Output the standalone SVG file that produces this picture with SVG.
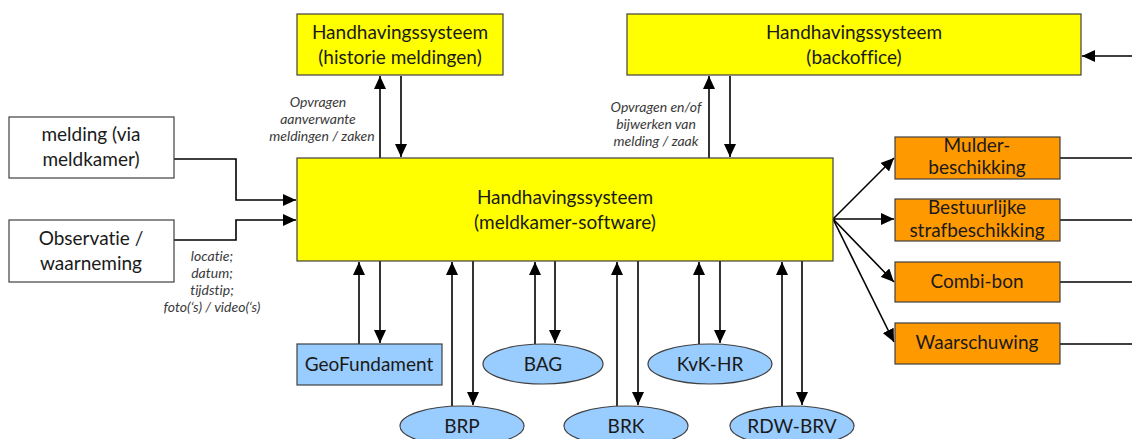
<svg xmlns="http://www.w3.org/2000/svg" width="1132" height="439" viewBox="0 0 1132 439">
  <style>
    .box { stroke: #404040; stroke-width: 1.2; }
    .sys { fill: #ffff00; }
    .src { fill: #ffffff; }
    .out { fill: #ff9900; }
    .reg { fill: #99ccff; }
    text { font-variant-ligatures: none; font-feature-settings: "liga" 0; }
    .t { font-family: Lato, "Liberation Sans", sans-serif; font-size: 19px; fill: #1a1a1a; text-anchor: middle; }
    .note { font-family: Lato, "Liberation Sans", sans-serif; font-size: 14px; font-style: italic; fill: #3a3a3a; text-anchor: middle; }
    .c { fill: none; stroke: #000; stroke-width: 1.6; }
  </style>
  <defs>
    <marker id="arrow" markerUnits="userSpaceOnUse" markerWidth="14" markerHeight="12" refX="13" refY="6" orient="auto">
      <path d="M0,0 L13,6 L0,12 Z" fill="#000"/>
    </marker>
  </defs>

  <rect width="1132" height="439" fill="#ffffff"/>

  <!-- connectors -->
  <g id="connectors">
    <!-- inputs -->
    <polyline class="c" points="174,159 236,159 236,200 296,200" marker-end="url(#arrow)"/>
    <polyline class="c" points="174,240 236,240 236,220 296,220" marker-end="url(#arrow)"/>
    <!-- historie -->
    <line class="c" x1="380" y1="158" x2="380" y2="76" marker-end="url(#arrow)"/>
    <line class="c" x1="401" y1="76" x2="401" y2="157" marker-end="url(#arrow)"/>
    <!-- backoffice -->
    <line class="c" x1="709" y1="158" x2="709" y2="76" marker-end="url(#arrow)"/>
    <line class="c" x1="730" y1="76" x2="730" y2="157" marker-end="url(#arrow)"/>
    <line class="c" x1="1132" y1="56" x2="1082" y2="56" marker-end="url(#arrow)"/>
    <!-- registers -->
    <line class="c" x1="359" y1="344" x2="359" y2="262" marker-end="url(#arrow)"/>
    <line class="c" x1="380" y1="261" x2="380" y2="343" marker-end="url(#arrow)"/>
    <line class="c" x1="452" y1="406" x2="452" y2="262" marker-end="url(#arrow)"/>
    <line class="c" x1="473" y1="261" x2="473" y2="405" marker-end="url(#arrow)"/>
    <line class="c" x1="535" y1="344" x2="535" y2="262" marker-end="url(#arrow)"/>
    <line class="c" x1="555" y1="261" x2="555" y2="343" marker-end="url(#arrow)"/>
    <line class="c" x1="617" y1="406" x2="617" y2="262" marker-end="url(#arrow)"/>
    <line class="c" x1="638" y1="261" x2="638" y2="405" marker-end="url(#arrow)"/>
    <line class="c" x1="699" y1="344" x2="699" y2="262" marker-end="url(#arrow)"/>
    <line class="c" x1="720" y1="261" x2="720" y2="343" marker-end="url(#arrow)"/>
    <line class="c" x1="782" y1="406" x2="782" y2="262" marker-end="url(#arrow)"/>
    <line class="c" x1="802" y1="261" x2="802" y2="405" marker-end="url(#arrow)"/>
    <!-- outputs -->
    <line class="c" x1="833" y1="219" x2="894" y2="158" marker-end="url(#arrow)"/>
    <line class="c" x1="833" y1="219" x2="894" y2="219" marker-end="url(#arrow)"/>
    <line class="c" x1="833" y1="219" x2="894" y2="282" marker-end="url(#arrow)"/>
    <line class="c" x1="833" y1="219" x2="894" y2="342" marker-end="url(#arrow)"/>
    <line class="c" x1="1060" y1="158" x2="1132" y2="158"/>
    <line class="c" x1="1060" y1="220" x2="1132" y2="220"/>
    <line class="c" x1="1060" y1="282" x2="1132" y2="282"/>
    <line class="c" x1="1060" y1="344" x2="1132" y2="344"/>
  </g>

  <!-- connector labels -->
  <g id="labels">
    <text class="note" x="318" y="107">Opvragen</text>
    <text class="note" x="318" y="124">aanverwante</text>
    <text class="note" x="322" y="141">meldingen / zaken</text>
    <text class="note" x="656" y="112">Opvragen en/of</text>
    <text class="note" x="656" y="129">bijwerken van</text>
    <text class="note" x="656" y="146">melding / zaak</text>
    <text class="note" x="212" y="261">locatie;</text>
    <text class="note" x="212" y="278">datum;</text>
    <text class="note" x="212" y="295">tijdstip;</text>
    <text class="note" x="212" y="312">foto(‘s) / video(‘s)</text>
  </g>

  <g id="historie">
    <rect class="box sys" x="297" y="14" width="206" height="61"/>
    <text class="t" x="400" y="39">Handhavingssysteem</text>
    <text class="t" x="400" y="64">(historie meldingen)</text>
  </g>

  <g id="backoffice">
    <rect class="box sys" x="627" y="14" width="454" height="61"/>
    <text class="t" x="854" y="39">Handhavingssysteem</text>
    <text class="t" x="854" y="64">(backoffice)</text>
  </g>

  <g id="melding">
    <rect class="box src" x="9" y="117" width="165" height="61"/>
    <text class="t" x="91" y="141">melding (via</text>
    <text class="t" x="91" y="166">meldkamer)</text>
  </g>

  <g id="observatie">
    <rect class="box src" x="9" y="220" width="165" height="62"/>
    <text class="t" x="91" y="245">Observatie /</text>
    <text class="t" x="91" y="270">waarneming</text>
  </g>

  <g id="meldkamer">
    <rect class="box sys" x="297" y="158" width="536" height="103"/>
    <text class="t" x="565" y="204">Handhavingssysteem</text>
    <text class="t" x="565" y="229">(meldkamer-software)</text>
  </g>

  <g id="geofundament">
    <rect class="box reg" x="297" y="344" width="145" height="41"/>
    <text class="t" x="369" y="371">GeoFundament</text>
  </g>
  <g id="bag">
    <ellipse class="box reg" cx="543" cy="364" rx="60" ry="20"/>
    <text class="t" x="543" y="371">BAG</text>
  </g>
  <g id="brp">
    <ellipse class="box reg" cx="462" cy="426" rx="62" ry="20"/>
    <text class="t" x="462" y="433">BRP</text>
  </g>
  <g id="brk">
    <ellipse class="box reg" cx="626" cy="426" rx="62" ry="20"/>
    <text class="t" x="626" y="433">BRK</text>
  </g>
  <g id="kvk-hr">
    <ellipse class="box reg" cx="710" cy="364" rx="62" ry="20"/>
    <text class="t" x="710" y="371">KvK-HR</text>
  </g>
  <g id="rdw-brv">
    <ellipse class="box reg" cx="792" cy="426" rx="62" ry="20"/>
    <text class="t" x="792" y="433">RDW-BRV</text>
  </g>

  <g id="mulderbeschikking">
    <rect class="box out" x="895" y="137" width="165" height="42"/>
    <text class="t" x="977" y="152">Mulder-</text>
    <text class="t" x="977" y="174">beschikking</text>
  </g>
  <g id="strafbeschikking">
    <rect class="box out" x="895" y="199" width="165" height="42"/>
    <text class="t" x="977" y="214">Bestuurlijke</text>
    <text class="t" x="977" y="237">strafbeschikking</text>
  </g>
  <g id="combibon">
    <rect class="box out" x="895" y="262" width="165" height="40"/>
    <text class="t" x="977" y="288">Combi-bon</text>
  </g>
  <g id="waarschuwing">
    <rect class="box out" x="895" y="323" width="165" height="41"/>
    <text class="t" x="977" y="349">Waarschuwing</text>
  </g>
</svg>
